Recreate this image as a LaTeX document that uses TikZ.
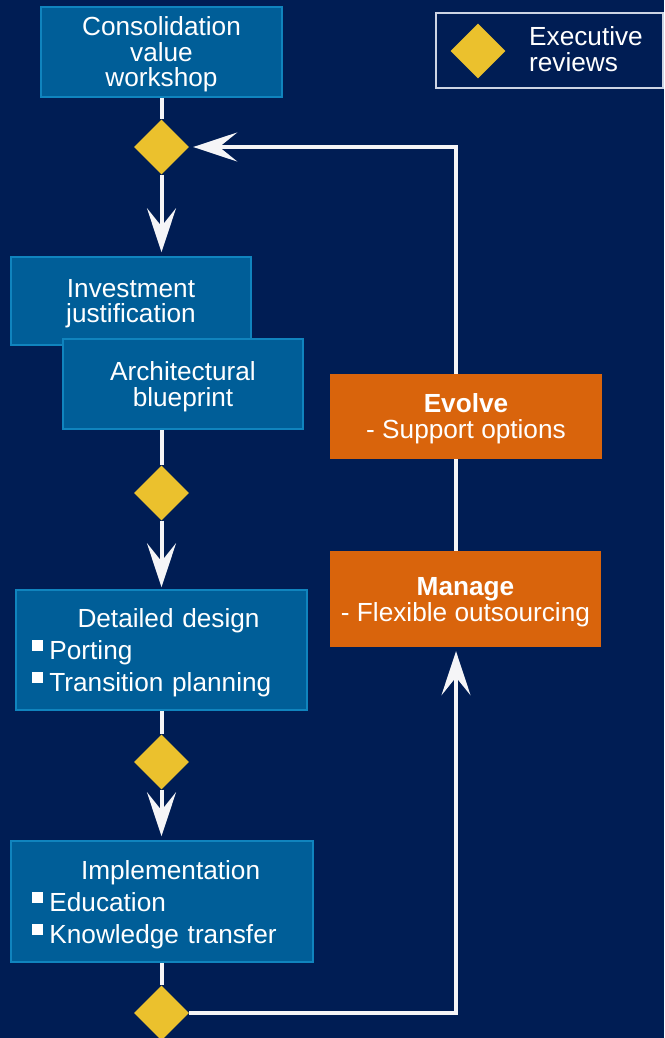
\documentclass[tikz,border=0pt]{standalone}
\usepackage{fontspec}
\setmainfont{Liberation Sans}
\usetikzlibrary{shapes.geometric,arrows.meta}
\definecolor{navy}{RGB}{0,29,84}
\definecolor{boxblue}{RGB}{0,94,152}
\definecolor{boxedge}{RGB}{16,132,190}
\definecolor{gold}{RGB}{235,193,45}
\definecolor{orng}{RGB}{217,100,12}
\definecolor{linew}{RGB}{245,245,247}
\newcommand\bul{\rule[8.4pt]{10.7pt}{10.7pt}\hspace{6.7pt}}
\pgfdeclarelayer{bglayer}
\pgfdeclarelayer{conn}
\pgfsetlayers{bglayer,conn,main}
\tikzset{
  bluebox/.style={draw=boxedge, line width=1.5pt, fill=boxblue, text=white, inner sep=0pt, align=center, text depth=0pt, font=\fontsize{26.2}{25.5}\selectfont},
  listbox/.style={draw=boxedge, line width=1.5pt, fill=boxblue, text=white, inner ysep=0pt, align=left, text depth=64pt, font=\fontsize{26.2}{32}\selectfont},
  orangebox/.style={fill=orng, text=white, inner sep=0pt, align=center, text depth=0pt, font=\fontsize{26.2}{26}\selectfont},
  review/.style={diamond, fill=gold, minimum width=55pt, minimum height=55pt, inner sep=0pt},
  conline/.style={draw=linew, line width=4pt},
  conarrow/.style={conline, -{Stealth[length=44pt,width=29pt,inset=18pt]}},
}
\begin{document}
\begin{tikzpicture}[x=1pt,y=-1pt]
\begin{pgfonlayer}{bglayer}
\fill[navy] (0,0) rectangle (664,1038);
\end{pgfonlayer}
\useasboundingbox (0,0) rectangle (664,1038);

% legend
\node[draw={rgb,255:red,205;green,212;blue,228}, line width=1.2pt, minimum width=227pt, minimum height=75pt, inner sep=0pt] (legend) at (549.5,50.5) {};
\node[review] (legd) at (478,51) {};
\node[text=white, anchor=west, align=left, inner sep=0pt, font=\fontsize{26.2}{26}\selectfont] (legt) at (529,49) {Executive\\reviews};

% boxes
\node[bluebox, minimum width=241pt, minimum height=90pt] (cons) at (161.5,52) {Consolidation\\value\\workshop};
\node[review] (d1) at (161.5,147) {};
\node[bluebox, minimum width=240pt, minimum height=88pt] (inv) at (131,301) {Investment\\justification};
\node[bluebox, minimum width=240pt, minimum height=90pt] (arch) at (183,384) {Architectural\\blueprint};
\node[review] (d2) at (161.5,493) {};
\node[listbox, inner xsep=16pt, text width=259pt, minimum height=120pt] (det) at (161.5,650)
  {\hspace*{45.5pt}Detailed design\\\bul Porting\\\bul Transition planning};
\node[review] (d3) at (161.5,762) {};
\node[listbox, inner xsep=21pt, text width=260pt, minimum height=121pt] (impl) at (162,901.5)
  {\hspace*{49pt}Implementation\\\bul Education\\\bul Knowledge transfer};
\node[review] (d4) at (161.5,1013) {};

\node[orangebox, minimum width=272pt, minimum height=85pt] (evo) at (466,416.5) {\textbf{Evolve}\\- Support options};
\node[orangebox, minimum width=271pt, minimum height=96pt] (man) at (465.5,599) {\textbf{Manage}\\- Flexible outsourcing};

\coordinate (loop) at (456,1013);

\begin{pgfonlayer}{conn}
\draw[conline] (cons.south) -- (d1.north);
\draw[conarrow, shorten >=4pt] (d1.south) -- (d1.south |- inv.north);
\draw[conline] (arch.south -| d2) -- (d2.north);
\draw[conarrow, shorten >=2pt] (d2.south) -- (d2.south |- det.north);
\draw[conline] (det.south -| d3) -- (d3.north);
\draw[conarrow, shorten >=4pt] (d3.south) -- (d3.south |- impl.north);
\draw[conline] (impl.south -| d4) -- (d4.north);
\draw[conarrow, shorten >=4pt] (d4.east) -- (loop) -- (loop |- man.south);
\draw[conline] (man.north -| loop) -- (evo.south -| loop);
\draw[conarrow, shorten >=4pt] (evo.north -| loop) -- (loop |- d1) -- (d1.east);
\end{pgfonlayer}
\end{tikzpicture}
\end{document}
